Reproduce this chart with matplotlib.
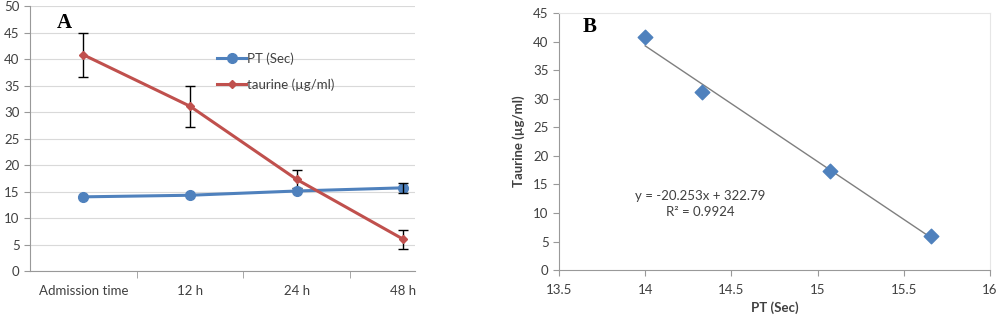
import matplotlib
matplotlib.use("Agg")
import matplotlib.pyplot as plt
import numpy as np

categories = ["Admission time", "12 h", "24 h", "48 h"]
pt_values = [14.0, 14.3, 15.1, 15.7]
pt_err = [0.0, 0.0, 0.0, 0.9]
taurine_values = [40.8, 31.1, 17.3, 6.0]
taurine_err = [4.1, 3.9, 1.7, 1.8]

pt_x = [14.0, 14.33, 15.07, 15.66]
taurine_y = [40.8, 31.1, 17.3, 6.0]
slope = -20.253
intercept = 322.79
r2 = 0.9924

plt.rcParams['font.family'] = ['Lato', 'DejaVu Sans']
BLUE = "#4F81BD"
RED = "#C0504D"
TXT = "#404040"

fig = plt.figure(figsize=(10, 3.25), dpi=100)

# Panel A
axA = fig.add_axes([0.030, 0.166, 0.385, 0.8155])
x = np.arange(len(categories))
axA.plot(x, pt_values, color=BLUE, marker='o', markersize=7, linewidth=2.2,
         label="PT (Sec)", zorder=3)
axA.plot(x, taurine_values, color=RED, marker='D', markersize=4, linewidth=2.2,
         label="taurine (µg/ml)", zorder=3)
axA.errorbar(x[3:], pt_values[3:], yerr=pt_err[3:], fmt='none', ecolor='black',
             elinewidth=1, capsize=3.5, zorder=4)
axA.errorbar(x, taurine_values, yerr=taurine_err, fmt='none', ecolor='black',
             elinewidth=1, capsize=3.5, zorder=2.5)
axA.set_xlim(-0.5, 3.11)
axA.set_ylim(0, 50)
axA.set_yticks(range(0, 51, 5))
axA.set_xticks(x)
axA.set_xticklabels(categories)
axA.set_xticks([0.5, 1.5, 2.5], minor=True)
axA.tick_params(axis='x', which='major', length=0, pad=10, labelsize=9.5, colors=TXT)
axA.tick_params(axis='x', which='minor', length=5, color='#999999')
axA.tick_params(axis='y', length=4, color='#999999', labelsize=9.5, colors=TXT)
axA.yaxis.grid(True, color='#D9D9D9', linewidth=0.8)
axA.set_axisbelow(True)
for s in ['top', 'right']:
    axA.spines[s].set_visible(False)
for s in ['left', 'bottom']:
    axA.spines[s].set_color('#999999')
axA.text(0.07, 0.975, "A", transform=axA.transAxes, fontsize=15, fontweight='bold',
         family=['Liberation Serif'], va='top', ha='left')
handles = [plt.Line2D([], [], color=BLUE, marker='o', markersize=7, linewidth=2.2),
           plt.Line2D([], [], color=RED, marker='D', markersize=4, linewidth=2.2)]
axA.legend(handles, ["PT (Sec)", "taurine (µg/ml)"], loc='upper left',
           bbox_to_anchor=(0.455, 0.87), frameon=False, fontsize=9.5, handlelength=2.2,
           handletextpad=0.05, labelspacing=1.0, labelcolor=TXT)

# Panel B
axB = fig.add_axes([0.559, 0.169, 0.431, 0.791])
axB.scatter(pt_x, taurine_y, marker='D', s=55, color=BLUE, zorder=3)
xs = np.array([min(pt_x), max(pt_x)])
axB.plot(xs, slope * xs + intercept, color='#7F7F7F', linewidth=1, zorder=2)
axB.set_xlim(13.5, 16)
axB.set_ylim(0, 45)
axB.set_xticks(np.arange(13.5, 16.01, 0.5))
axB.set_xticklabels(["13.5", "14", "14.5", "15", "15.5", "16"])
axB.set_yticks(range(0, 46, 5))
axB.tick_params(axis='both', length=4, color='#999999', labelsize=9.5, colors=TXT)
axB.tick_params(axis='x', pad=6)
for s in ['top', 'right']:
    axB.spines[s].set_color('#E6E6E6')
for s in ['left', 'bottom']:
    axB.spines[s].set_color('#999999')
axB.set_xlabel("PT (Sec)", fontsize=9.5, fontweight='bold', color=TXT, labelpad=4)
axB.set_ylabel("Taurine (µg/ml)", fontsize=9.5, fontweight='bold', color=TXT, labelpad=6)
axB.text(0.055, 0.985, "B", transform=axB.transAxes, fontsize=15, fontweight='bold',
         family=['Liberation Serif'], va='top', ha='left')
axB.text(14.32, 11.5, "y = -20.253x + 322.79\nR² = 0.9924", ha='center', va='center',
         fontsize=9.5, color=TXT, linespacing=1.4)

fig.savefig("out.png", dpi=100)
